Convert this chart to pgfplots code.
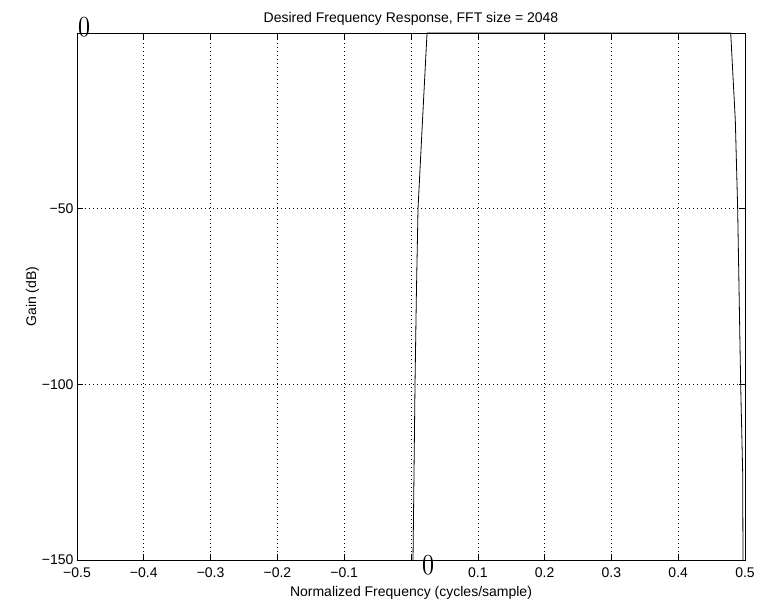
\documentclass[border=0pt]{standalone}
\usepackage{graphicx}
\usepackage{pgfplots}
\pgfplotsset{compat=1.18}
\usepackage{fontspec}
\setmainfont{Liberation Sans}
\newcommand{\bigzero}{\scalebox{2.4}[2.9]{\fontfamily{lmr}\fontsize{10}{10}\selectfont 0}}
\begin{document}
\begin{tikzpicture}
\begin{axis}[
  scale only axis,
  width=668pt, height=527pt,
  xmin=-0.5, xmax=0.5, ymin=-150, ymax=0,
  xtick={-0.5,-0.4,-0.3,-0.2,-0.1,0,0.1,0.2,0.3,0.4,0.5},
  xticklabels={−0.5,−0.4,−0.3,−0.2,−0.1,,0.1,0.2,0.3,0.4,0.5},
  ytick={-150,-100,-50,0},
  yticklabels={−150,−100,−50,},
  tick align=inside,
  major tick length=6pt,
  tick style={black, line width=0.6pt},
  axis line style={black, line width=0.8pt},
  grid=major,
  grid style={black, dash pattern=on 0.8pt off 3.2pt, line width=0.6pt},
  ticklabel style={font=\fontsize{14}{16}\selectfont},
  xticklabel style={yshift=-4pt},
  title={Desired Frequency Response, FFT size = 2048},
  title style={font=\fontsize{14}{16}\selectfont, yshift=-2pt},
  xlabel={Normalized Frequency (cycles/sample)},
  ylabel={Gain (dB)},
  label style={font=\fontsize{14}{16}\selectfont},
  xlabel style={yshift=-2pt},
  ylabel style={yshift=-4pt},
]
\addplot[black, line width=0.8pt] coordinates {
  (0.001,-190) (0.003,-150) (0.0045,-125) (0.006,-100) (0.008,-75)
  (0.0105,-50) (0.0172,-25) (0.024,0) (0.25,0) (0.4786,0)
  (0.4855,-25) (0.489,-50) (0.4935,-100) (0.4965,-125) (0.497,-150) (0.4985,-190)
};
\coordinate (z1) at (axis cs:-0.4895,1.7);
\coordinate (z2) at (axis cs:0.0255,-148.6);
\coordinate (bbl) at (rel axis cs:-0.11527,-0.0759);
\coordinate (btr) at (rel axis cs:1.03443,1.06262);
\end{axis}
\node[inner sep=0pt] at (z1) {\bigzero};
\node[inner sep=0pt, anchor=north] at (z2) {\bigzero};
\useasboundingbox (bbl) rectangle (btr);
\end{tikzpicture}
\end{document}
